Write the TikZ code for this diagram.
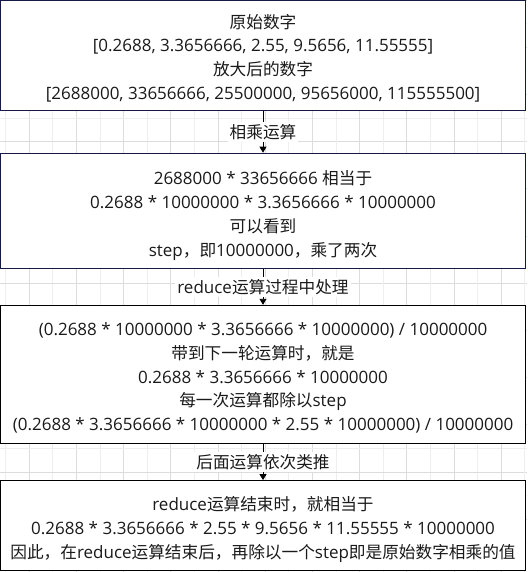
\documentclass[tikz,border=0pt]{standalone}
\usepackage{fontspec}
\setmainfont{Open Sans}
\newfontfamily\cjkfont[Scale=0.98]{Noto Sans CJK SC}
\newcommand\ZH[1]{{\cjkfont #1}}
\usetikzlibrary{arrows.meta}
\definecolor{navyline}{RGB}{20,26,68}
\definecolor{gridlight}{RGB}{238,238,238}
\definecolor{griddark}{RGB}{220,220,220}
\definecolor{txt}{RGB}{26,26,26}
\tikzset{
  box/.style={draw=#1, line width=1.2pt, fill=white, minimum width=525pt, inner sep=0pt},
  boxtext/.style={align=center, text=txt, inner sep=0pt, font=\fontsize{17}{23.9}\selectfont},
  flowarrow/.style={draw=black, line width=0.9pt, -{Triangle[width=7pt,length=6pt]}},
  flowlabel/.style={fill=white, inner sep=2pt, text=txt, font=\fontsize{17}{20}\selectfont},
}
\begin{document}
\begin{tikzpicture}[x=1pt,y=-1pt]
\useasboundingbox (0,0) rectangle (527,572);
% background grid
\foreach \k in {0,...,11} {
  \draw[gridlight, line width=0.9pt] ({5.7+47.2*\k},0) -- ({5.7+47.2*\k},572);
  \draw[griddark, line width=0.9pt] ({29.3+47.2*\k},0) -- ({29.3+47.2*\k},572);
  \draw[griddark, line width=0.9pt] (0,{0.1+47.2*\k}) -- (527,{0.1+47.2*\k});
  \draw[gridlight, line width=0.9pt] (0,{23.7+47.2*\k}) -- (527,{23.7+47.2*\k});
}
\node[box=navyline, minimum height=109.5pt] (b1) at (263,55.6) {};
\node[box=navyline, minimum height=115pt] (b2) at (263,210.8) {};
\node[box=black, minimum height=138pt] (b3) at (263,374.4) {};
\node[box=black, minimum height=90pt] (b4) at (263,525.7) {};
\node[boxtext] (t1) at (263,58.2) {%
\ZH{原始数字}\\
{[}0.2688, 3.3656666, 2.55, 9.5656, 11.55555]\\
\ZH{放大后的数字}\\
{[}2688000, 33656666, 25500000, 95656000, 115555500]};
\node[boxtext] (t2) at (263,215.3) {%
2688000 * 33656666 \ZH{相当于}\\
0.2688 * 10000000 * 3.3656666 * 10000000\\
\ZH{可以看到}\\
step\ZH{，即}10000000\ZH{，乘了两次}};
\node[boxtext] (t3) at (263,377.9) {%
(0.2688 * 10000000 * 3.3656666 * 10000000) / 10000000\\
\ZH{带到下一轮运算时，就是}\\
0.2688 * 3.3656666 * 10000000\\
\ZH{每一次运算都除以}step\\
(0.2688 * 3.3656666 * 10000000 * 2.55 * 10000000) / 10000000};
\node[boxtext] (t4) at (263,529.6) {%
reduce\ZH{运算结束时，就相当于}\\
0.2688 * 3.3656666 * 2.55 * 9.5656 * 11.55555 * 10000000\\
\ZH{因此，在}reduce\ZH{运算结束后，再除以一个}step\ZH{即是原始数字相乘的值}};
\draw[flowarrow] (b1.south) -- node[flowlabel] (l1) {\ZH{相乘运算}} (b2.north);
\draw[flowarrow] (b2.south) -- node[flowlabel] (l2) {reduce\ZH{运算过程中处理}} (b3.north);
\draw[flowarrow] (b3.south) -- node[flowlabel] (l3) {\ZH{后面运算依次类推}} (b4.north);
\end{tikzpicture}
\end{document}
